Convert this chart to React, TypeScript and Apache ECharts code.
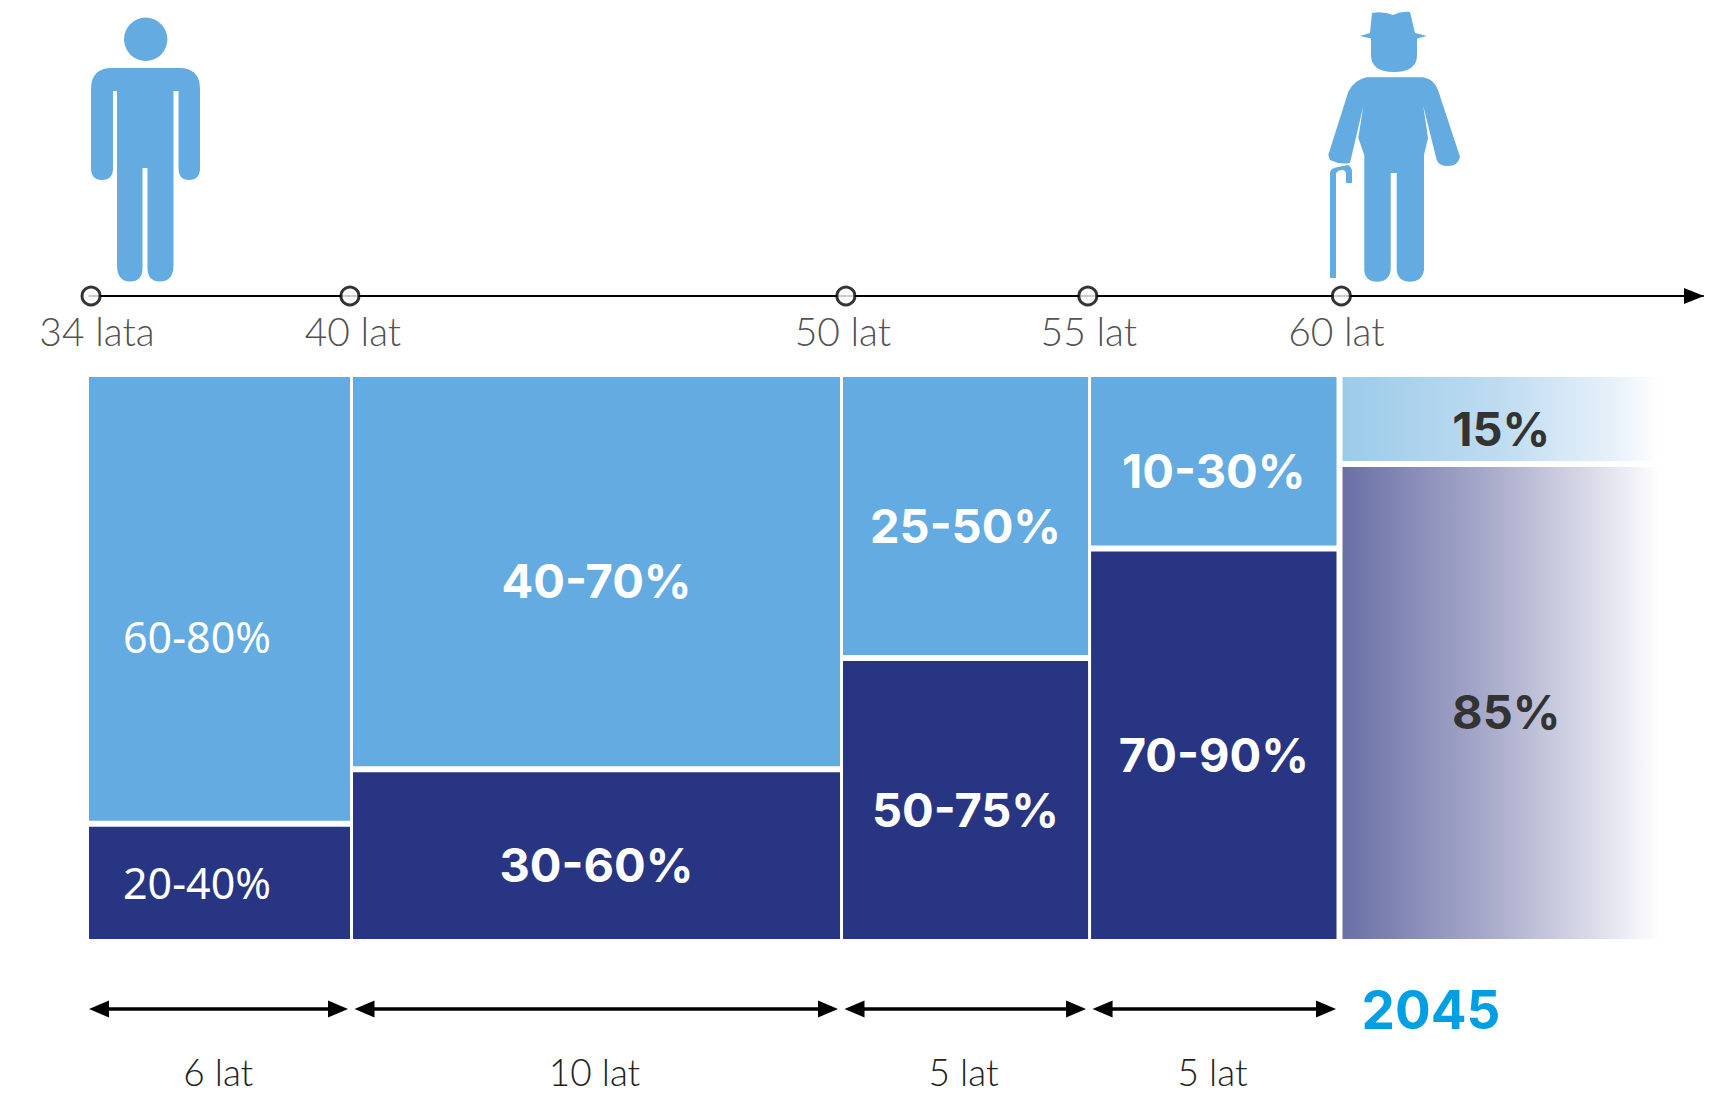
import React, { useEffect, useRef } from "react";
import * as echarts from "echarts";

// Column widths as a share of the total width (%)
const columnShares = [16.71, 31.19, 15.79, 15.91, 20.4];
// Share of each column's height (%)
const darkShares = [20.5, 30.2, 50, 69.5, 84.5];
const lightShares = [79.5, 69.8, 50, 30.5, 15.5];
const darkLabels = ["20-40%", "30-60%", "50-75%", "70-90%", "85%"];
const lightLabels = ["60-80%", "40-70%", "25-50%", "10-30%", "15%"];

// Timeline
const ageLabels = ["34 lata", "40 lat", "50 lat", "55 lat", "60 lat"];
const agePositions = [0.13, 16.61, 48.18, 63.58, 79.72];

// Durations below the columns
const durationLabels = ["6 lat", "10 lat", "5 lat", "5 lat"];
const yearLabel = "2045";

const LIGHT = "#63ABE0";
const DARK = "#283583";
const BOLD = "Inter, 'Noto Sans', sans-serif";
const FONT = "'Noto Sans', sans-serif";
const THIN = "Lato, 'Noto Sans', sans-serif";

const PERSON =
  "M112 68H179Q200 68 200 89V168Q200 180 189 180Q178.5 180 178.5 168V91H173.5V265Q173.5 281.5 160 281.5Q147.5 281.5 147.5 268V168H142.5V268Q142.5 281.5 130 281.5Q117 281.5 117 265V91H113V168Q113 180 102 180Q91 180 91 168V89Q91 68 112 68Z" +
  "M124 39.3A21.7 21.7 0 1 1 167.4 39.3A21.7 21.7 0 1 1 124 39.3Z";
const ELDER =
  "M1372 13Q1383 11 1393 15Q1401 11 1410 12L1415 33L1427 36L1417 38.5V55Q1417 72 1394 72Q1371 72 1371 55V38.5L1360 36L1370 33Z" +
  "M1366.7 77.3H1423Q1434 79 1438 90L1460 156.7Q1458 166 1448 166Q1439 166 1436.7 160L1423.3 106L1428 138L1424 155V270Q1422 281.7 1410 281.7Q1398 281.7 1396.7 270V173H1390.7V270Q1389 281.7 1377 281.7Q1365 281.7 1364.3 270V155L1358.3 138L1363.3 106L1350 163Q1340 165 1330 160L1328.3 155L1348.3 91.7Q1354 80 1366.7 77.3Z" +
  "M1330 278V172Q1331 168 1338 167L1348 165Q1352 167 1352 172V183H1346V173Q1345 170 1342 170Q1337 170 1336 174V278Z";

function iconShape(d: string, name: string) {
  echarts.graphic.registerShape(name, (echarts.graphic as any).extendPath(d, {}));
}
iconShape(PERSON, "personIcon");
iconShape(ELDER, "elderIcon");

const edges: number[] = columnShares.reduce((a, w) => [...a, a[a.length - 1] + w], [0]);

const cells: number[][] = [];
columnShares.forEach((_, i) => {
  cells.push([edges[i], edges[i + 1], 100 - lightShares[i], 100, i, 0]);
  cells.push([edges[i], edges[i + 1], 0, darkShares[i], i, 1]);
});

function renderCell(_: any, api: any) {
  const x0 = api.value(0), x1 = api.value(1), y0 = api.value(2), y1 = api.value(3);
  const col = api.value(4), isDark = api.value(5) === 1;
  const a = api.coord([x0, y1]);
  const b = api.coord([x1, y0]);
  const left = a[0] + (col === 0 ? 0 : col === 4 ? 3 : 1.5);
  const right = b[0] - (col === 3 ? 3 : col === 4 ? 0 : 1.5);
  const top = a[1] + (isDark ? 3 : 0);
  const bottom = b[1] - (isDark ? 0 : 3);
  let fill: any = isDark ? DARK : LIGHT;
  if (col === 4) {
    fill = {
      type: "linear", x: 0, y: 0, x2: 1, y2: 0,
      colorStops: isDark
        ? [{ offset: 0, color: "#6A6FA6" }, { offset: 0.5, color: "#AEB0CE" }, { offset: 0.85, color: "#E4E5EF" }, { offset: 1, color: "#FFFFFF" }]
        : [{ offset: 0, color: "#9CCBEA" }, { offset: 0.5, color: "#BFDCF1" }, { offset: 0.85, color: "#E6F1FA" }, { offset: 1, color: "#FFFFFF" }],
    };
  }
  const label = isDark ? darkLabels[col] : lightLabels[col];
  let tx = (left + right) / 2;
  let ty = (top + bottom) / 2 + (col === 4 && isDark ? 8 : 9);
  let align = "center";
  let family = BOLD;
  let weight: any = 700;
  let size = 47;
  if (col === 0) {
    tx = left + 34;
    align = "left";
    family = FONT;
    weight = 400;
    size = 43;
    ty = (top + bottom) / 2 + (isDark ? 0 : 38);
  }
  if (col === 4 && isDark) tx += 5;
  return {
    type: "group",
    children: [
      { type: "rect", shape: { x: left, y: top, width: right - left, height: bottom - top }, style: { fill } },
      {
        type: "text",
        style: {
          x: tx, y: ty, text: label, align, verticalAlign: "middle",
          fill: col === 4 ? "#333333" : "#FFFFFF", fontFamily: family, fontSize: size, fontWeight: weight,
        },
      },
    ],
  };
}

function renderDuration(_: any, api: any) {
  const i = api.value(0);
  const a = api.coord([edges[i], 0]);
  const b = api.coord([edges[i + 1], 0]);
  const c = api.coord([edges[i], 1]);
  const l = a[0] + (i === 0 ? 0 : 3);
  const r = b[0] - 3.5;
  const y = a[1];
  const len = 20;
  const head = [
    { type: "polygon", shape: { points: [[l, y], [l + len, y - 8.5], [l + len, y + 8.5]] }, style: { fill: "#000" } },
    { type: "polygon", shape: { points: [[r, y], [r - len, y - 8.5], [r - len, y + 8.5]] }, style: { fill: "#000" } },
  ];
  return {
    type: "group",
    children: [
      { type: "line", shape: { x1: l + 10, y1: y, x2: r - 10, y2: y }, style: { stroke: "#000", lineWidth: 3.5 } },
      ...head,
      {
        type: "text",
        style: {
          x: (a[0] + b[0]) / 2 - 2, y: c[1] - 2, text: durationLabels[i], align: "center", verticalAlign: "middle",
          fill: "#222222", fontFamily: THIN, fontWeight: 300, fontSize: 37,
        },
      },
    ],
  };
}

const labelShift = [6, 3, -3, 1, -5];

export default function App() {
  const ref = useRef<HTMLDivElement>(null);
  useEffect(() => {
    const chart = echarts.init(ref.current!, undefined, { renderer: "svg" });
    chart.setOption({
      animation: false,
      backgroundColor: "#FFFFFF",
      grid: [
        { left: 89, top: 377, width: 1571, height: 562 },
        { left: 89, top: 295, width: 1614, height: 1 },
        { left: 89, top: 1009, width: 1571, height: 64 },
      ],
      xAxis: [
        { gridIndex: 0, type: "value", min: 0, max: 100, show: false },
        {
          gridIndex: 1, type: "value", min: 0, max: 102.74, splitLine: { show: false },
          axisTick: { show: false }, axisLabel: { show: false },
          axisLine: { show: true, onZero: false, symbol: ["none", "triangle"], symbolSize: [16, 20], symbolOffset: [0, -9], lineStyle: { color: "#000", width: 2 } },
        },
        { gridIndex: 2, type: "value", min: 0, max: 100, show: false },
      ],
      yAxis: [
        { gridIndex: 0, type: "value", min: 0, max: 100, show: false },
        { gridIndex: 1, type: "value", min: 0, max: 1, show: false },
        { gridIndex: 2, type: "value", min: 0, max: 1, inverse: true, show: false },
      ],
      series: [
        {
          type: "custom", xAxisIndex: 0, yAxisIndex: 0, renderItem: renderCell, clip: false,
          data: cells, silent: true,
        },
        {
          type: "scatter", xAxisIndex: 1, yAxisIndex: 1, symbol: "circle", symbolSize: 18, z: 5, silent: true,
          itemStyle: { color: "#FFFFFF", borderColor: "#000", borderWidth: 3 },
          data: agePositions.map((p, i) => ({
            value: [p, 0],
            label: {
              show: true, position: "bottom", distance: 5, formatter: ageLabels[i], offset: [labelShift[i], 0],
              color: "#222222", fontFamily: THIN, fontWeight: 300, fontSize: 39,
            },
          })),
        },
        {
          type: "custom", xAxisIndex: 2, yAxisIndex: 2, renderItem: renderDuration, clip: false,
          data: durationLabels.map((_, i) => [i]), silent: true,
        },
      ],
      graphic: [
        { type: "personIcon", x: 0, y: 0, style: { fill: LIGHT } },
        { type: "elderIcon", x: 0, y: 0, style: { fill: LIGHT } },
        {
          type: "text", x: 1431, y: 1010,
          style: {
            text: yearLabel, align: "center", verticalAlign: "middle", fill: "#009FE3",
            fontFamily: BOLD, fontSize: 53, fontWeight: 700,
          },
        },
      ],
    });
    return () => chart.dispose();
  }, []);
  return <div ref={ref} style={{ position: "absolute", left: 0, top: 0, width: 1727, height: 1097 }} />;
}
